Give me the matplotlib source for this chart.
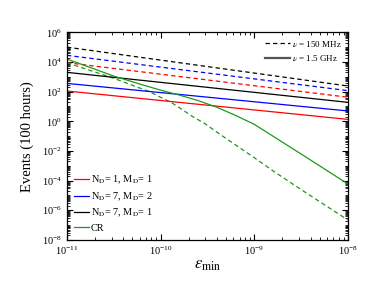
import numpy as np
import matplotlib
matplotlib.use("Agg")
import matplotlib.pyplot as plt
from matplotlib.lines import Line2D
from matplotlib.ticker import LogLocator, NullFormatter

plt.rcParams["font.family"] = ["Liberation Serif", "DejaVu Serif"]
plt.rcParams["mathtext.fontset"] = "stix"

# straight power laws: values at eps = 1e-11 and 1e-8
eps_ends = [1e-11, 1e-8]
red_solid = [110, 1.35]
blue_solid = [360, 5.0]
black_solid = [2000, 19]
red_dash = [9000, 42]
blue_dash = [28000, 117]
black_dash = [100000, 240]

# cosmic ray curves (log10 values)
cr_logeps = [-11.0, -10.5, -10.22, -10.0, -9.8, -9.6, -9.4, -9.2, -9.0, -8.73, -8.5, -8.0]
cr_solid_log = [4.2, 3.05, 2.51, 2.1, 1.77, 1.4, 0.95, 0.4, -0.2, -1.28, -2.2, -4.22]
cr_dash_logeps = [-11.0, -10.5, -10.12, -9.87, -9.655, -9.53, -9.39, -9.0, -8.785, -8.5, -8.0]
cr_dash_log = [3.95, 2.9, 2.0, 1.21, 0.31, -0.14, -0.77, -2.45, -3.4, -4.6, -6.65]

fig = plt.figure(figsize=(3.74, 2.86), dpi=100)
ax = fig.add_axes([0.179, 0.161, 0.751, 0.726])

lw = 0.9
green = "#1a9a1a"
dash = (0, (3.5, 2.5))
ax.plot(eps_ends, black_dash, color="black", ls=dash, lw=lw)
ax.plot(eps_ends, blue_dash, color="blue", ls=dash, lw=lw)
ax.plot(eps_ends, red_dash, color="red", ls=dash, lw=lw)
ax.plot(10 ** np.array(cr_dash_logeps), 10 ** np.array(cr_dash_log),
        color=green, ls=dash, lw=lw)

l1, = ax.plot(eps_ends, red_solid, color="red", lw=lw)
l2, = ax.plot(eps_ends, blue_solid, color="blue", lw=lw)
l3, = ax.plot(eps_ends, black_solid, color="black", lw=lw)
l4, = ax.plot(10 ** np.array(cr_logeps), 10 ** np.array(cr_solid_log),
              color=green, lw=lw)

ax.set_xscale("log")
ax.set_yscale("log")
ax.set_xlim(1e-11, 1e-8)
ax.set_ylim(1e-8, 1e6)

ax.set_xticks([1e-11, 1e-10, 1e-9, 1e-8])
ax.set_yticks([10.0 ** k for k in range(-8, 7, 2)])
ax.yaxis.set_minor_locator(LogLocator(base=10, subs=np.arange(1, 10), numticks=40))
ax.yaxis.set_minor_formatter(NullFormatter())
ax.xaxis.set_minor_locator(LogLocator(base=10, subs=np.arange(2, 10), numticks=20))
ax.xaxis.set_minor_formatter(NullFormatter())

ax.tick_params(which="both", direction="in", top=True, right=True, labelsize=7.5)
ax.tick_params(which="major", length=4, width=0.8)
ax.tick_params(which="minor", length=2, width=0.6)
for s in ax.spines.values():
    s.set_linewidth(0.9)

ax.set_ylabel("Events (100 hours)", fontsize=10.5, labelpad=6)
ax.set_xlabel(r"$\varepsilon_{\mathrm{min}}$", fontsize=12, labelpad=0)

leg1 = ax.legend([l1, l2, l3, l4],
                 [r"N$_\mathrm{D}$= 1, M$_\mathrm{D}$= 1",
                  r"N$_\mathrm{D}$= 7, M$_\mathrm{D}$= 2",
                  r"N$_\mathrm{D}$= 7, M$_\mathrm{D}$= 1",
                  "CR"],
                 loc="lower left", fontsize=7.4, frameon=False,
                 handlelength=1.45, handletextpad=0.2, labelspacing=0.4,
                 borderaxespad=0.4, borderpad=0.3)
ax.add_artist(leg1)

h1 = Line2D([], [], color="black", ls=dash, lw=lw)
h2 = Line2D([], [], color="#555555", lw=1.6)
ax.legend([h1, h2], [r"$\nu$ = 150 MHz", r"$\nu$ = 1.5 GHz"],
          loc="upper right", fontsize=6.5, frameon=False,
          handlelength=2.8, handletextpad=0.2, labelspacing=0.45,
          borderaxespad=0.3)

fig.savefig("out.png", dpi=100)
